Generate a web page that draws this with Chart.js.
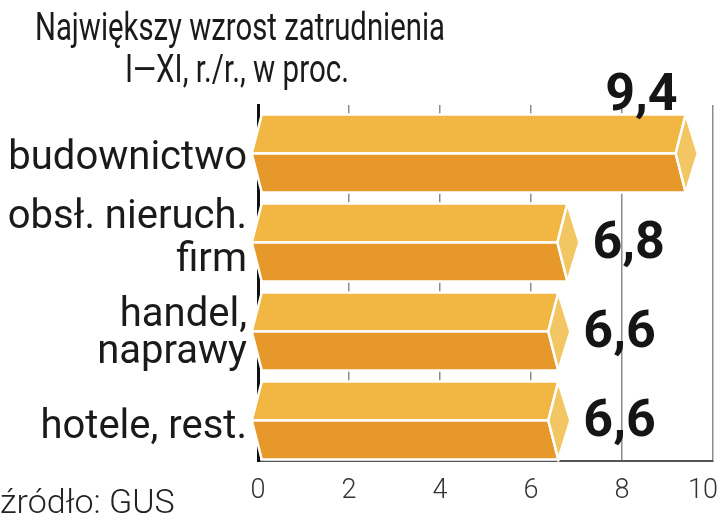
<!DOCTYPE html>
<html>
<head>
<meta charset="utf-8">
<script src="https://cdn.jsdelivr.net/npm/chart.js@4.4.1/dist/chart.umd.min.js"></script>
<style>
  html, body { margin: 0; padding: 0; background: #fff; }
  #wrap { width: 720px; height: 528px; }
</style>
</head>
<body>
<div id="wrap"><canvas id="wykres" width="720" height="528"></canvas></div>
<script>
// dane z wykresu
const kategorie = [['budownictwo'], ['obsł. nieruch.', 'firm'], ['handel,', 'naprawy'], ['hotele, rest.']];
const wartosci = [9.4, 6.8, 6.6, 6.6];
const etykietyWartosci = ['9,4', '6,8', '6,6', '6,6'];
const podzialkaX = [0, 2, 4, 6, 8, 10];
const tytul = ['Największy wzrost zatrudnienia', 'I—XI, r./r., w proc.'];
const zrodlo = 'źródło: GUS';

const kolorGora = '#F2B642';
const kolorDol = '#E6982A';
const kolorCzolo = '#F3C664';
// odstępy wierszy i przesunięcia podpisów kategorii (styl)
const interlinia = [0, 43, 37, 0];
const przesuniecie = [0, -8, -2, 2];

// rysowanie słupków w kształcie graniastosłupa
const slupki = {
  id: 'slupki',
  afterDatasetsDraw(chart) {
    const ctx = chart.ctx;
    const meta = chart.getDatasetMeta(0);
    const area = chart.chartArea;
    meta.data.forEach((bar, i) => {
      const p = bar.getProps(['x', 'y', 'base', 'height'], true);
      const y = p.y + 4;
      const h2 = p.height / 2;
      const top = y - h2, bot = y + h2;
      const lewy = p.base - 7, lewyR = p.base + 3;
      const x = p.x, tip = p.x + 12, wew = p.x - 10;
      ctx.save();
      ctx.lineJoin = 'miter';
      ctx.strokeStyle = '#fff';
      ctx.lineWidth = 2.5;
      const wielokat = (pts, kolor) => {
        ctx.beginPath();
        pts.forEach((pt, k) => k ? ctx.lineTo(pt[0], pt[1]) : ctx.moveTo(pt[0], pt[1]));
        ctx.closePath();
        ctx.fillStyle = kolor;
        ctx.fill();
        ctx.stroke();
      };
      wielokat([[lewy, y], [lewyR, top], [x, top], [wew, y]], kolorGora);
      wielokat([[lewy, y], [wew, y], [x, bot], [lewyR, bot]], kolorDol);
      wielokat([[x, top], [tip, y], [x, bot], [wew, y]], kolorCzolo);

      // wartość
      ctx.font = 'bold 52px Roboto';
      ctx.fillStyle = '#151515';
      ctx.textBaseline = 'alphabetic';
      const txt = etykietyWartosci[i];
      const w = ctx.measureText(txt).width;
      if (tip + 20 + w > area.right) {
        ctx.textAlign = 'right';
        ctx.fillText(txt, x - 8, top - 5);
      } else {
        ctx.textAlign = 'left';
        ctx.fillText(txt, tip + 13, y + 15);
      }

      // podpis kategorii
      const linie = kategorie[i];
      ctx.font = '40px Roboto';
      ctx.fillStyle = '#1a1a1a';
      ctx.textAlign = 'right';
      linie.forEach((l, k) => {
        const by = y + 15 + (k - (linie.length - 1) / 2) * interlinia[i] + przesuniecie[i];
        ctx.fillText(l, area.left - 11, by);
      });
      ctx.restore();
    });
  }
};

// tytuł, podpisy osi X i źródło
const teksty = {
  id: 'teksty',
  afterDraw(chart) {
    const ctx = chart.ctx;
    const sx = chart.scales.x;
    ctx.save();
    ctx.fillStyle = '#1a1a1a';
    ctx.textAlign = 'center';
    ctx.textBaseline = 'alphabetic';
    ctx.font = '38px Roboto';
    ctx.fillText(tytul[0], 240, 40, 410);
    ctx.fillText(tytul[1], 237, 82, 224);

    ctx.font = '300 27px Roboto';
    ctx.fillStyle = '#333';
    podzialkaX.forEach(v => {
      const t = String(v);
      const w = ctx.measureText(t).width;
      let px = sx.getPixelForValue(v);
      px = Math.min(px, chart.width - w / 2 - 2);
      ctx.fillText(t, px, 498);
    });

    ctx.font = '300 34px Roboto';
    ctx.fillStyle = '#222';
    ctx.textAlign = 'left';
    ctx.fillText(zrodlo, 0, 513);
    ctx.restore();
  }
};

new Chart(document.getElementById('wykres'), {
  type: 'bar',
  data: {
    labels: kategorie,
    datasets: [{
      data: wartosci,
      backgroundColor: 'rgba(0,0,0,0)',
      borderWidth: 0,
      barPercentage: 0.876,
      categoryPercentage: 1
    }]
  },
  options: {
    indexAxis: 'y',
    responsive: false,
    animation: false,
    layout: { padding: { top: 105, right: 7, left: 0, bottom: 0 } },
    plugins: {
      legend: { display: false },
      title: { display: false },
      tooltip: { enabled: false }
    },
    scales: {
      x: {
        min: 0,
        max: 10,
        ticks: { display: false, stepSize: 2 },
        grid: { color: '#8c8c8c', lineWidth: 1.5, drawTicks: false },
        border: { color: '#555', width: 2 },
        afterFit: s => { s.height = 67; }
      },
      y: {
        grid: { display: false, drawTicks: false },
        border: { color: '#111', width: 3 },
        ticks: { display: false },
        afterFit: s => { s.width = 258; }
      }
    }
  },
  plugins: [slupki, teksty]
});
</script>
</body>
</html>
